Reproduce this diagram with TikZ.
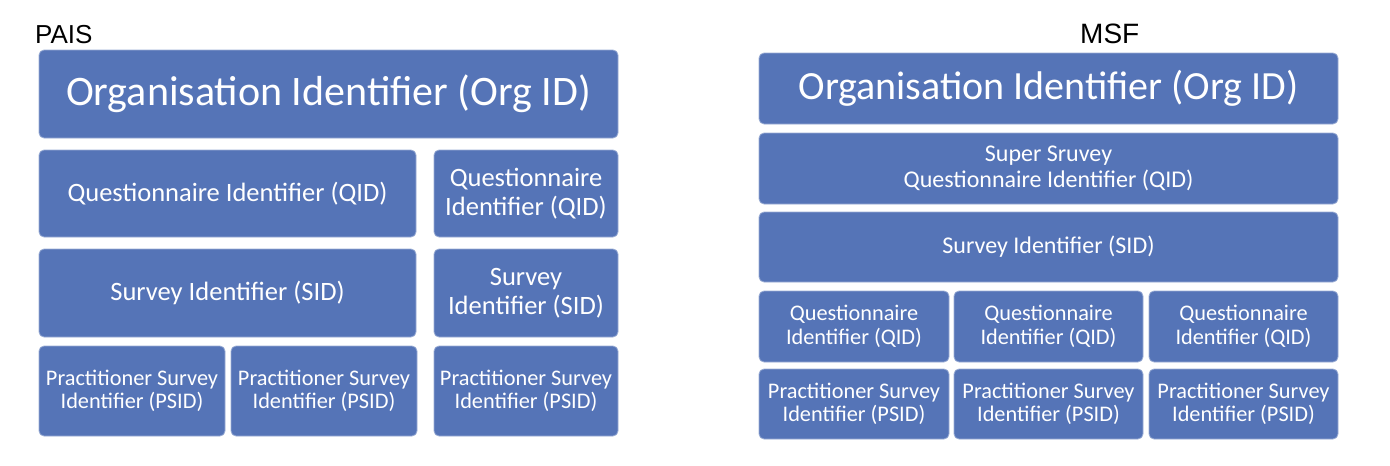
\documentclass[tikz,border=0pt]{standalone}
\usepackage{fontspec}
\setmainfont{Carlito}
\newfontfamily\labelfont{Liberation Sans}
\definecolor{boxblue}{RGB}{85,116,183}
\begin{document}
\begin{tikzpicture}[x=1pt,y=-1pt,
  blk/.style={rectangle, rounded corners=5pt, fill=boxblue, draw=boxblue!60!white,
    line width=0.8pt, text=white, align=center, inner sep=0pt},
  ttl/.style={anchor=base west, inner sep=0pt, font=\labelfont\fontsize{26}{26}\selectfont},
  big/.style={font=\fontsize{42}{46}\selectfont},
  mid/.style={font=\fontsize{26.5}{29}\selectfont},
  sml/.style={font=\fontsize{22.3}{23.5}\selectfont},
  wide/.style={font=\fontsize{24}{26}\selectfont},
]
\useasboundingbox (0,0) rectangle (1390,466);

% PAIS hierarchy
\node[ttl] (pais) at (35,43) {PAIS};
\node[blk,big,minimum width=579,minimum height=88] (orgL) at (328.5,94) {Organisation Identifier (Org ID)};
\node[blk,mid,minimum width=377,minimum height=87] (qidL) at (227.5,193.5) {Questionnaire Identifier (QID)};
\node[blk,mid,minimum width=184,minimum height=87] (qidR) at (526,193.5) {Questionnaire\\Identifier (QID)};
\node[blk,mid,minimum width=377,minimum height=88] (sidL) at (227.5,293) {Survey Identifier (SID)};
\node[blk,mid,minimum width=184,minimum height=88] (sidR) at (526,293) {Survey\\Identifier (SID)};
\node[blk,sml,minimum width=186,minimum height=90] (ps1) at (132,391) {Practitioner Survey\\Identifier (PSID)};
\node[blk,sml,minimum width=186,minimum height=90] (ps2) at (324,391) {Practitioner Survey\\Identifier (PSID)};
\node[blk,sml,minimum width=184,minimum height=90] (ps3) at (526,391) {Practitioner Survey\\Identifier (PSID)};

% MSF hierarchy
\node[ttl,font=\labelfont\fontsize{28}{28}\selectfont] (msf) at (1080,43) {MSF};
\node[blk,font=\fontsize{40}{44}\selectfont,minimum width=579,minimum height=71] (orgM) at (1048.5,88.5) {Organisation Identifier (Org ID)};
\node[blk,wide,minimum width=579,minimum height=71] (sup) at (1048.5,168.5) {Super Sruvey\\Questionnaire Identifier (QID)};
\node[blk,wide,minimum width=579,minimum height=70] (sidM) at (1048.5,247) {Survey Identifier (SID)};
\node[blk,sml,minimum width=190,minimum height=71] (q1) at (854,326.5) {Questionnaire\\Identifier (QID)};
\node[blk,sml,minimum width=189,minimum height=71] (q2) at (1048.5,326.5) {Questionnaire\\Identifier (QID)};
\node[blk,sml,minimum width=189,minimum height=71] (q3) at (1243.5,326.5) {Questionnaire\\Identifier (QID)};
\node[blk,sml,minimum width=190,minimum height=70] (p1) at (854,404) {Practitioner Survey\\Identifier (PSID)};
\node[blk,sml,minimum width=189,minimum height=70] (p2) at (1048.5,404) {Practitioner Survey\\Identifier (PSID)};
\node[blk,sml,minimum width=189,minimum height=70] (p3) at (1243.5,404) {Practitioner Survey\\Identifier (PSID)};
\end{tikzpicture}
\end{document}
